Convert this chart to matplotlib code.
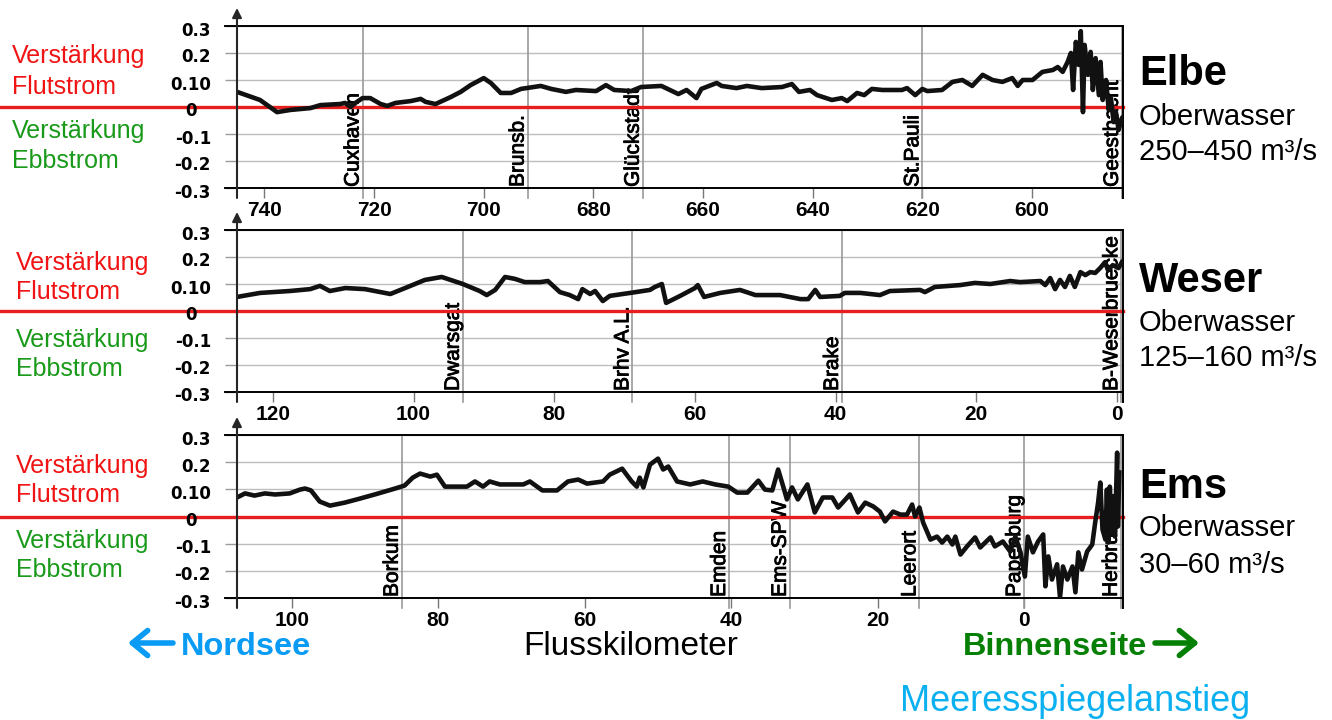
import matplotlib.pyplot as plt
import matplotlib.patheffects as pe
from matplotlib.transforms import blended_transform_factory

plt.rcParams['font.family'] = ['Liberation Sans', 'DejaVu Sans']

# ---------------- data (river km, tidal-current change) ----------------
elbe_km = [745.0, 740.8, 737.7, 735.3, 731.6, 729.8, 726.2, 725.3, 724.3, 723.4,
           722.1, 720.7, 718.8, 717.6, 716.1, 713.3, 711.5, 710.6, 708.8, 706.0,
           704.2, 702.4, 700.0, 698.7, 696.9, 695.0, 693.2, 689.6, 687.7, 685.0,
           683.2, 679.5, 677.7, 676.2, 673.1, 671.3, 667.6, 664.5, 663.0, 661.2,
           660.3, 657.5, 656.6, 653.9, 652.0, 649.3, 645.6, 643.8, 642.5, 640.5,
           639.2, 636.5, 634.7, 633.7, 631.9, 630.6, 629.2, 627.3, 623.7, 622.8,
           621.3, 620.0, 619.1, 616.4, 614.5, 612.7, 610.9, 609.0, 607.2, 605.4,
           603.6, 602.6, 601.7, 599.9, 598.1, 596.2, 595.3, 594.4, 593.5, 592.9,
           592.5, 592.0, 591.5, 591.1, 590.7, 590.4, 589.8, 589.3, 588.9, 588.4,
           587.8, 587.5, 587.1, 586.5, 586.0, 585.6, 585.1, 584.7, 584.2, 583.6,
           583.1]
elbe_val = [0.056, 0.026, -0.019, -0.011, -0.004, 0.007, 0.011, 0.015, 0.000, 0.015,
            0.033, 0.033, 0.011, 0.004, 0.015, 0.022, 0.030, 0.019, 0.011, 0.037,
            0.056, 0.081, 0.107, 0.089, 0.052, 0.052, 0.067, 0.078, 0.067, 0.056,
            0.063, 0.059, 0.081, 0.063, 0.059, 0.074, 0.078, 0.048, 0.063, 0.033,
            0.067, 0.089, 0.078, 0.070, 0.078, 0.070, 0.074, 0.085, 0.056, 0.063,
            0.044, 0.026, 0.033, 0.022, 0.052, 0.044, 0.067, 0.063, 0.063, 0.070,
            0.044, 0.067, 0.059, 0.063, 0.093, 0.100, 0.078, 0.119, 0.100, 0.093,
            0.107, 0.078, 0.100, 0.100, 0.130, 0.137, 0.148, 0.130, 0.167, 0.200,
            0.063, 0.241, 0.156, 0.281, -0.019, 0.230, 0.119, 0.204, 0.063, 0.181,
            0.044, 0.167, 0.026, 0.100, -0.011, 0.033, -0.056, -0.019, -0.085, -0.041,
            -0.030]

weser_km = [125.1, 121.8, 117.6, 114.7, 113.3, 111.9, 109.7, 106.9, 103.3, 101.2,
            98.4, 96.0, 93.0, 90.6, 89.6, 88.4, 87.0, 85.6, 84.2, 82.0,
            80.9, 79.2, 77.8, 76.6, 76.0, 74.9, 74.2, 73.1, 72.1, 69.2,
            66.4, 65.7, 64.7, 64.1, 62.1, 60.0, 59.6, 58.7, 56.4, 53.6,
            51.4, 47.9, 45.0, 43.9, 42.9, 42.2, 39.4, 38.7, 36.5, 33.7,
            32.3, 28.0, 27.3, 25.9, 22.3, 20.2, 18.0, 15.2, 13.8, 10.9,
            10.2, 9.5, 8.8, 8.1, 7.4, 6.7, 6.0, 5.2, 4.5, 3.8,
            3.1, 2.4, 1.7, 1.3, 0.6, -0.2, -0.7]
weser_val = [0.052, 0.067, 0.074, 0.081, 0.093, 0.074, 0.085, 0.081, 0.063, 0.085,
             0.115, 0.126, 0.100, 0.074, 0.059, 0.078, 0.126, 0.119, 0.107, 0.107,
             0.111, 0.070, 0.059, 0.044, 0.081, 0.063, 0.074, 0.037, 0.056, 0.067,
             0.078, 0.089, 0.100, 0.030, 0.056, 0.085, 0.096, 0.052, 0.067, 0.078,
             0.059, 0.059, 0.044, 0.044, 0.078, 0.052, 0.056, 0.067, 0.067, 0.059,
             0.074, 0.078, 0.070, 0.089, 0.096, 0.104, 0.100, 0.111, 0.107, 0.111,
             0.096, 0.122, 0.081, 0.115, 0.089, 0.130, 0.089, 0.144, 0.133, 0.144,
             0.141, 0.159, 0.181, 0.152, 0.170, 0.159, 0.181]

ems_km = [107.5, 106.4, 105.1, 103.7, 102.3, 100.3, 98.9, 98.2, 97.4, 96.2,
          94.8, 92.8, 90.7, 88.7, 87.3, 85.9, 84.6, 83.5, 82.5, 81.1,
          80.2, 79.1, 78.4, 76.1, 75.0, 73.9, 73.0, 71.6, 68.4, 67.5,
          65.8, 63.8, 62.3, 60.9, 59.7, 57.5, 56.6, 54.9, 53.6, 52.9,
          52.5, 52.0, 51.1, 50.0, 49.3, 48.6, 47.4, 45.6, 43.9, 42.2,
          40.4, 39.2, 37.8, 36.3, 35.4, 34.4, 33.6, 32.9, 32.4, 31.7,
          30.9, 29.6, 28.6, 27.5, 26.2, 25.4, 23.8, 22.7, 21.7, 20.6,
          19.7, 19.0, 17.9, 16.9, 16.0, 15.3, 14.9, 14.3, 13.8, 12.8,
          11.9, 11.2, 10.5, 9.8, 9.4, 8.7, 7.8, 6.7, 6.0, 4.6,
          4.0, 2.9, 1.9, 1.2, 0.5, -0.1, -0.5, -1.2, -1.9, -2.6,
          -2.9, -3.3, -3.8, -4.5, -4.9, -5.3, -5.9, -6.6, -7.0, -7.4,
          -7.9, -8.6, -9.3, -9.7, -10.1, -10.4, -10.7, -11.1, -11.3, -11.5,
          -11.7, -12.0, -12.2, -12.4, -12.7, -12.8, -13.0]
ems_val = [0.070, 0.085, 0.077, 0.085, 0.081, 0.085, 0.099, 0.103, 0.096, 0.055,
           0.040, 0.051, 0.066, 0.081, 0.092, 0.103, 0.114, 0.143, 0.158, 0.147,
           0.154, 0.110, 0.110, 0.110, 0.129, 0.110, 0.129, 0.118, 0.118, 0.129,
           0.096, 0.096, 0.129, 0.136, 0.121, 0.129, 0.154, 0.176, 0.129, 0.110,
           0.143, 0.107, 0.191, 0.213, 0.173, 0.184, 0.129, 0.118, 0.129, 0.118,
           0.110, 0.088, 0.088, 0.132, 0.099, 0.096, 0.173, 0.110, 0.063, 0.107,
           0.063, 0.118, 0.015, 0.070, 0.070, 0.033, 0.081, 0.015, 0.051, 0.037,
           0.018, -0.018, 0.018, 0.007, 0.007, 0.044, 0.000, 0.033, -0.022, -0.085,
           -0.074, -0.096, -0.074, -0.103, -0.074, -0.140, -0.110, -0.077, -0.114, -0.077,
           -0.110, -0.092, -0.129, -0.074, -0.132, -0.221, -0.074, -0.132, -0.092, -0.066,
           -0.257, -0.147, -0.232, -0.176, -0.298, -0.184, -0.232, -0.184, -0.279, -0.132,
           -0.195, -0.129, -0.103, -0.022, 0.051, 0.125, -0.048, -0.085, 0.099, -0.096,
           0.110, -0.059, 0.074, -0.074, 0.235, -0.037, 0.162]

elbe_ticks = [740, 720, 700, 680, 660, 640, 620, 600]
weser_ticks = [120, 100, 80, 60, 40, 20, 0]
ems_ticks = [100, 80, 60, 40, 20, 0]

elbe_stations = ['Cuxhaven', 'Brunsb.', 'Glückstadt', 'St.Pauli', 'Geesthacht']
elbe_station_km = [722.1, 692.0, 671.0, 620.0, 583.6]
weser_stations = ['Dwarsgat', 'Brhv A.L.', 'Brake', 'B-Weserbruecke']
weser_station_km = [93.0, 68.9, 39.1, -0.6]
ems_stations = ['Borkum', 'Emden', 'Ems-SPW', 'Leerort', 'Papenburg', 'Herbrum']
ems_station_km = [85.0, 40.3, 32.0, 14.3, 0.0, -13.2]

y_ticks = [-0.3, -0.2, -0.1, 0.0, 0.1, 0.2, 0.3]
y_ticklabels = ['-0.3', '-0.2', '-0.1', '0', '0.10', '0.2', '0.3']

rivers = ['Elbe', 'Weser', 'Ems']
discharge = ['250–450 m³/s', '125–160 m³/s', '30–60 m³/s']

# ---------------- layout (pixels) ----------------
W, H = 1332, 720
fig = plt.figure(figsize=(W / 100, H / 100), dpi=100)

panels = [
    dict(box=(237, 26, 1123, 188), km=elbe_km, val=elbe_val, xlim=(745.0, 583.4),
         ticks=elbe_ticks, st=elbe_stations, stkm=elbe_station_km, left=12),
    dict(box=(237, 230, 1123, 392), km=weser_km, val=weser_val, xlim=(125.1, -0.85),
         ticks=weser_ticks, st=weser_stations, stkm=weser_station_km, left=16),
    dict(box=(237, 435, 1123, 598), km=ems_km, val=ems_val, xlim=(107.5, -13.5),
         ticks=ems_ticks, st=ems_stations, stkm=ems_station_km, left=16),
]
# baselines relative to panel top
name_off = [(59, 99, 134), (62, 101, 136), (63, 101, 138)]
side_off = [(37, 68, 112, 142), (40, 69, 117, 146), (38, 67, 113, 142)]

RED_TXT = '#f01414'
GREEN_TXT = '#1a9a1a'
heavy = [pe.withStroke(linewidth=0.6, foreground='black')]


def ftext(x, y, s, **kw):
    fig.text(x / W, 1 - y / H, s, va='baseline', **kw)


for i, p in enumerate(panels):
    x0, y0, x1, y1 = p['box']
    ph = y1 - y0
    ax = fig.add_axes([x0 / W, 1 - y1 / H, (x1 - x0) / W, ph / H])
    ax.set_xlim(*p['xlim'])
    ax.set_ylim(-0.3, 0.3)
    for s in ['left', 'right', 'top', 'bottom']:
        ax.spines[s].set_visible(False)

    # grid + y tick marks
    ax.set_yticks(y_ticks)
    ax.tick_params(axis='y', length=8.6, width=1, color='#9a9a9a', labelleft=False)
    ax.grid(axis='y', color='#bdbdbd', lw=1)
    ax.set_axisbelow(True)

    ax.set_xticks(p['ticks'])
    ax.set_xticklabels([str(t) for t in p['ticks']], fontsize=15, fontweight='bold')
    ax.tick_params(axis='x', length=7.2, width=1, color='#777777', pad=2)

    trans = blended_transform_factory(ax.transData, ax.transAxes)
    ext = 10 / ph
    lpad = 12 / (x1 - x0)

    # frame lines
    ax.plot([-lpad, 1], [1, 1], transform=ax.transAxes, color='black', lw=1.4,
            clip_on=False, zorder=4)
    ax.plot([-lpad, 1], [0, 0], transform=ax.transAxes, color='black', lw=1.4,
            clip_on=False, zorder=4)
    ax.plot([1, 1], [-ext, 1], transform=ax.transAxes, color='black', lw=1.4,
            clip_on=False, zorder=4)
    ax.annotate('', xy=(0, 1 + 18 / ph), xytext=(0, -ext), xycoords='axes fraction',
                arrowprops=dict(arrowstyle='-|>', color='#262626', lw=1.5,
                                mutation_scale=14, shrinkA=0, shrinkB=0),
                zorder=5)

    # station lines and labels
    for name, km in zip(p['st'], p['stkm']):
        ax.plot([km, km], [-ext, 1], transform=trans, color='#9a9a9a', lw=1.2,
                clip_on=False, zorder=1)
        ax.text(km, -0.296, name, rotation=90, ha='right', va='bottom',
                fontsize=15, color='black', zorder=2, path_effects=heavy)

    # zero line (from figure edge)
    ax.plot([-x0 / (x1 - x0), 1], [0, 0],
            transform=blended_transform_factory(ax.transAxes, ax.transData),
            color='#e61e1e', lw=2.4, clip_on=False, zorder=3)

    # data
    ax.plot(p['km'], p['val'], color='#111111', lw=3.3, solid_joinstyle='round', zorder=4)

    # y tick labels
    for v, lab in zip(y_ticks, y_ticklabels):
        yy = (v + 0.3) / 0.6 - 4.5 / ph
        if lab == '0':
            ax.text(-46 / (x1 - x0), yy, lab, transform=ax.transAxes, ha='center',
                    va='center', fontsize=12, fontweight='bold', family='DejaVu Sans')
        else:
            ax.text(-26 / (x1 - x0), yy, lab, transform=ax.transAxes, ha='right',
                    va='center', fontsize=12, fontweight='bold', family='DejaVu Sans')

    # side labels
    a, b, c, d = side_off[i]
    lx = p['left']
    ftext(lx, y0 + a, 'Verstärkung', fontsize=18, color=RED_TXT)
    ftext(lx, y0 + b, 'Flutstrom', fontsize=18, color=RED_TXT)
    ftext(lx, y0 + c, 'Verstärkung', fontsize=18, color=GREEN_TXT)
    ftext(lx, y0 + d, 'Ebbstrom', fontsize=18, color=GREEN_TXT)

    n1, n2, n3 = name_off[i]
    ftext(1139, y0 + n1, rivers[i], fontsize=30, fontweight='bold')
    ftext(1139, y0 + n2, 'Oberwasser', fontsize=21)
    ftext(1139, y0 + n3, discharge[i], fontsize=21)

# ---------------- bottom annotations ----------------
ftext(181, 655, 'Nordsee', fontsize=23.4, fontweight='bold', color='#0a9bf5')
fig.add_artist(plt.Annotation('', xy=(128 / W, 1 - 643 / H), xytext=(173 / W, 1 - 643 / H),
                              xycoords='figure fraction',
                              arrowprops=dict(arrowstyle='->,head_length=0.55,head_width=0.45',
                                              lw=4, color='#0a9bf5', mutation_scale=20,
                                              shrinkA=0, shrinkB=0)))
ftext(523, 655, 'Flusskilometer', fontsize=24)
ftext(963, 655, 'Binnenseite', fontsize=23.4, fontweight='bold', color='#058005')
fig.add_artist(plt.Annotation('', xy=(1199 / W, 1 - 643 / H), xytext=(1155 / W, 1 - 643 / H),
                              xycoords='figure fraction',
                              arrowprops=dict(arrowstyle='->,head_length=0.55,head_width=0.45',
                                              lw=4, color='#058005', mutation_scale=20,
                                              shrinkA=0, shrinkB=0)))
ftext(1075, 711, 'Meeresspiegelanstieg', fontsize=26, color='#0ab0f0', ha='center')

fig.savefig('out.png', dpi=100)
